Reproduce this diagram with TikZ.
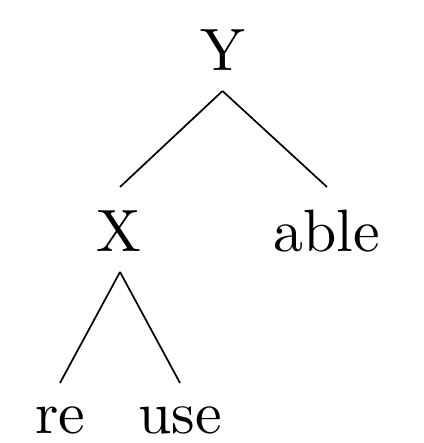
\documentclass[tikz,border=0pt]{standalone}
\usetikzlibrary{calc}
\begin{document}
\begin{tikzpicture}[x=1bp,y=1bp,
  lbl/.style={inner sep=0pt,anchor=base,scale=6,font=\fontsize{10pt}{12pt}\selectfont},
  edge/.style={line width=1.7bp,line cap=butt}]
\useasboundingbox (0,0) rectangle (423,-443);
\node[lbl] (Y) at (222.5,-71) {Y};
\node[lbl] (X) at (119,-251) {X};
\node[lbl] (able) at (326.5,-251) {able};
\node[lbl] (re) at (60,-433) {re};
\node[lbl] (use) at (180,-433) {use};
\coordinate (Ytop) at ([yshift=-20bp]Y.base);
\coordinate (Xtop) at ([yshift=-21bp]X.base);
\draw[edge] (Ytop) -- ([xshift=1bp,yshift=64bp]X.base);
\draw[edge] (Ytop) -- ([xshift=0.5bp,yshift=64bp]able.base);
\draw[edge] ([xshift=1bp]Xtop) -- ([yshift=50bp]re.base);
\draw[edge] ([xshift=1bp]Xtop) -- ([yshift=50bp]use.base);
\end{tikzpicture}
\end{document}
